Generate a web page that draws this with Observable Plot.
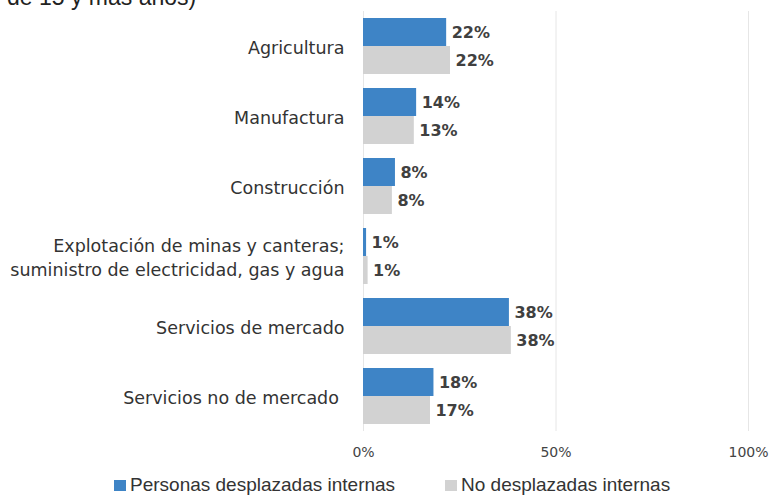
<!DOCTYPE html>
<html>
<head>
<meta charset="utf-8">
<script src="https://cdn.jsdelivr.net/npm/d3@7"></script>
<script src="https://cdn.jsdelivr.net/npm/@observablehq/plot@0.6"></script>
<style>
  html, body { margin: 0; padding: 0; background: #fff; overflow: hidden; }
  #wrap { position: relative; width: 769px; height: 495px; }
  #title { position: absolute; top: -16px; left: 7px; font-family: "Liberation Sans", Arial, sans-serif; font-size: 23px; color: #222; white-space: nowrap; line-height: 26px; }
  #chart { position: absolute; top: 0; left: 0; }
  #legend { position: absolute; top: 474px; left: 0; width: 769px; font-family: "Liberation Sans", Arial, sans-serif; font-size: 19px; color: #333; }
  .item { position: absolute; top: 0; display: flex; align-items: center; white-space: nowrap; line-height: 22px; }
  .sw { width: 12px; height: 11px; margin-right: 4px; display: inline-block; }
</style>
</head>
<body>
<div id="wrap">
  <div id="title">de 15 y más años)</div>
  <div id="chart"></div>
  <div id="legend"></div>
</div>
<script>
const categories = [
  "Agricultura",
  "Manufactura",
  "Construcción",
  "Explotación de minas y canteras;\nsuministro de electricidad, gas y agua",
  "Servicios de mercado",
  "Servicios no de mercado\u00a0"
];
const seriesNames = ["Personas desplazadas internas", "No desplazadas internas"];
const seriesColors = ["#3E84C6", "#D2D2D2"];
const desplazadas = [21.6, 13.8, 8.3, 0.8, 37.9, 18.3];
const noDesplazadas = [22.6, 13.2, 7.5, 1.2, 38.4, 17.4];
const labelsDesplazadas = ["22%", "14%", "8%", "1%", "38%", "18%"];
const labelsNoDesplazadas = ["22%", "13%", "8%", "1%", "38%", "17%"];
const xTicks = [0, 50, 100];

const rowsA = categories.map((c, i) => ({cat: c, value: desplazadas[i], label: labelsDesplazadas[i]}));
const rowsB = categories.map((c, i) => ({cat: c, value: noDesplazadas[i], label: labelsNoDesplazadas[i]}));

const labelFont = "'DejaVu Sans', sans-serif";

const chart = Plot.plot({
  width: 769,
  height: 465,
  marginLeft: 363,
  marginRight: 21,
  marginTop: 11,
  marginBottom: 34,
  style: {fontFamily: labelFont, background: "transparent"},
  x: {domain: [0, 100], label: null},
  y: {domain: categories, paddingInner: 0.2, paddingOuter: 0.1, label: null},
  marks: [
    Plot.ruleX(xTicks, {stroke: "#e6e6e6", strokeWidth: 1}),
    Plot.barX(rowsA, {x: "value", y: "cat", fill: seriesColors[0], insetBottom: 28}),
    Plot.barX(rowsB, {x: "value", y: "cat", fill: seriesColors[1], insetTop: 28}),
    Plot.text(rowsA, {x: "value", y: "cat", text: "label", dy: -14, dx: 5, textAnchor: "start", fontSize: 16, fontWeight: 700, fill: "#404040"}),
    Plot.text(rowsB, {x: "value", y: "cat", text: "label", dy: 14, dx: 5, textAnchor: "start", fontSize: 16, fontWeight: 700, fill: "#404040"}),
    Plot.axisY({tickSize: 0, tickPadding: 19, fontSize: 17.5, fill: "#333", lineHeight: 1.37, label: null}),
    Plot.axisX(xTicks, {tickSize: 0, tickPadding: 16, fontSize: 14, fill: "#444", tickFormat: d => d + "%", label: null})
  ]
});
document.getElementById("chart").appendChild(chart);

const legend = document.getElementById("legend");
const legendX = [114, 445];
seriesNames.forEach((name, i) => {
  const item = document.createElement("div");
  item.className = "item";
  item.style.left = legendX[i] + "px";
  const sw = document.createElement("span");
  sw.className = "sw";
  sw.style.background = seriesColors[i];
  const t = document.createElement("span");
  t.textContent = name;
  item.appendChild(sw);
  item.appendChild(t);
  legend.appendChild(item);
});
</script>
</body>
</html>
